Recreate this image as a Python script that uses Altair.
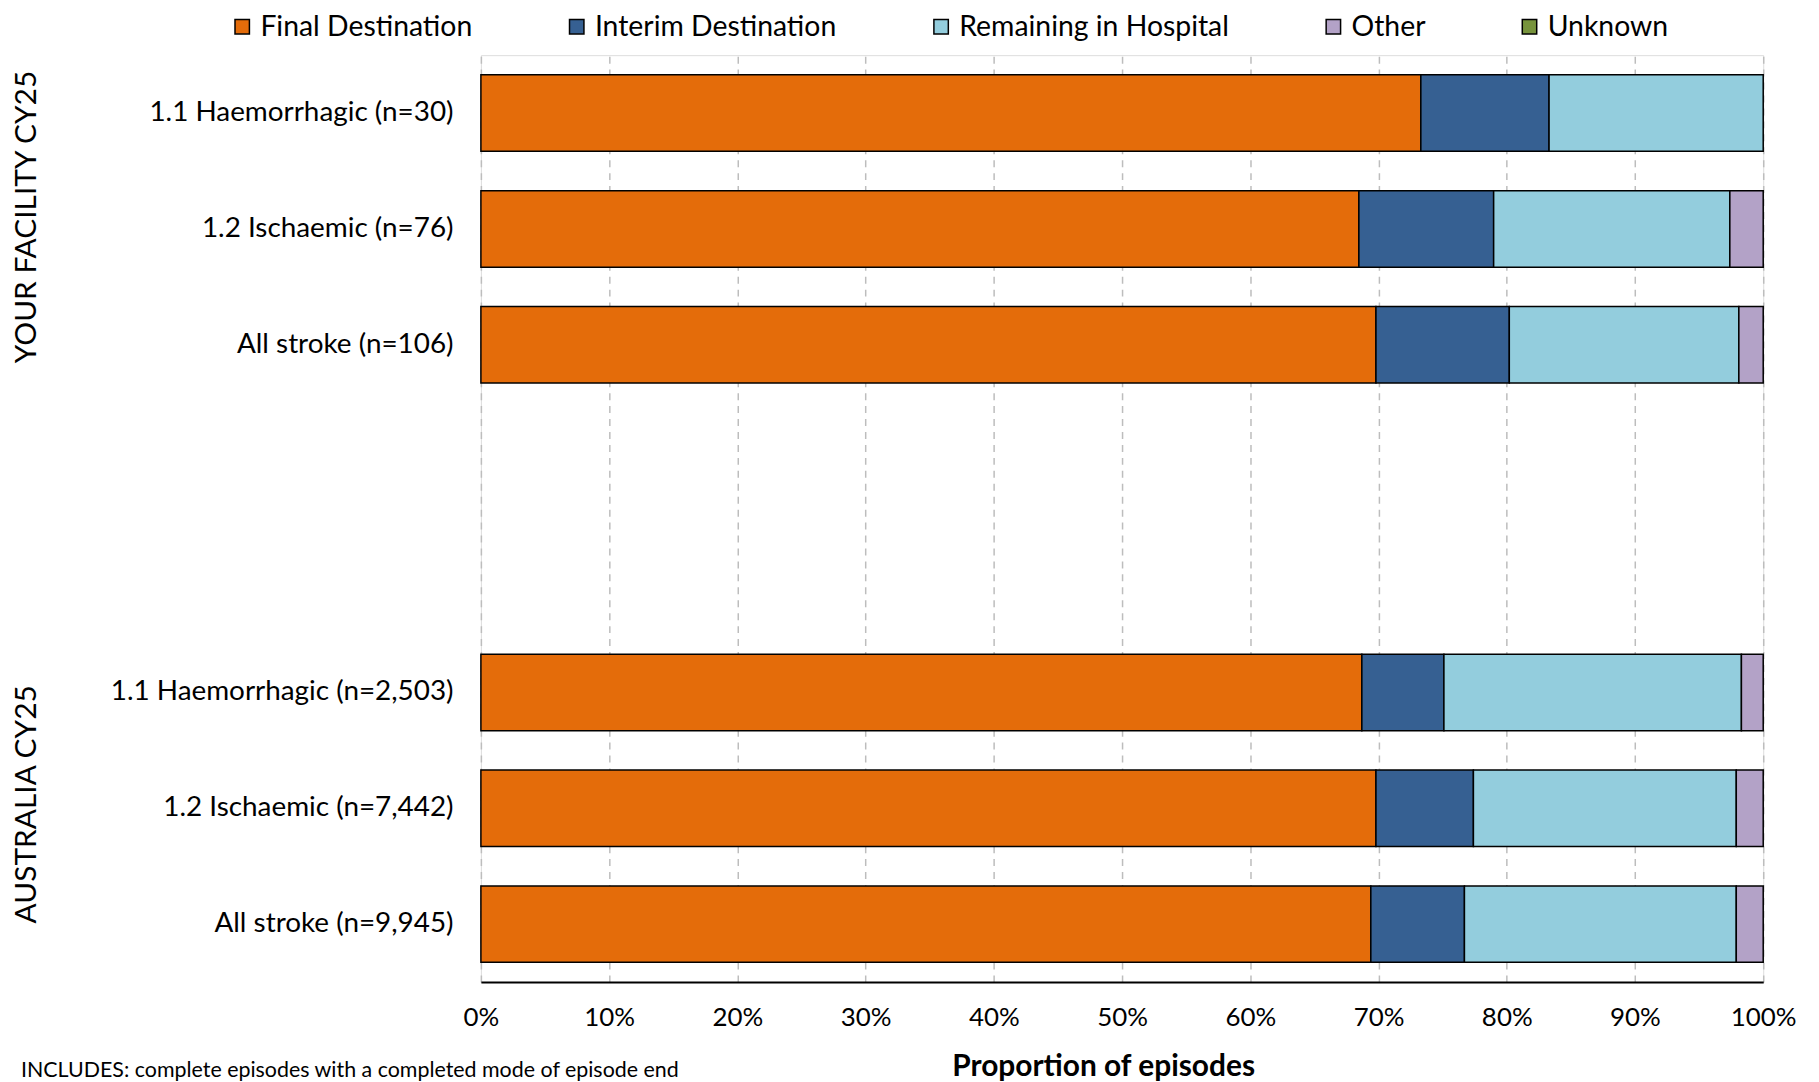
import altair as alt
import pandas as pd

categories = [
    "1.1 Haemorrhagic (n=30)",
    "1.2 Ischaemic (n=76)",
    "All stroke (n=106)",
    "1.1 Haemorrhagic (n=2,503)",
    "1.2 Ischaemic (n=7,442)",
    "All stroke (n=9,945)",
]
blank_rows = [" ", "  "]
series = ["Final Destination", "Interim Destination", "Remaining in Hospital", "Other", "Unknown"]
colors = ["#E46C0A", "#366092", "#93CDDD", "#B3A2C7", "#77933C"]

final_dest = [73.3, 68.4, 69.8, 68.7, 69.8, 69.4]
interim_dest = [10.0, 10.5, 10.4, 6.4, 7.6, 7.3]
remaining = [16.7, 18.4, 17.9, 23.2, 20.5, 21.2]
other = [0.0, 2.6, 1.9, 1.7, 2.1, 2.1]
unknown = [0.0, 0.0, 0.0, 0.0, 0.0, 0.0]

groups = ["YOUR FACILITY CY25", "AUSTRALIA CY25"]
group_mid = ["1.2 Ischaemic (n=76)", "1.2 Ischaemic (n=7,442)"]
footnote = "INCLUDES: complete episodes with a completed mode of episode end"

y_domain = categories[:3] + blank_rows + categories[3:]

rows = []
for si, (name, vals) in enumerate(zip(series, [final_dest, interim_dest, remaining, other, unknown])):
    for c, v in zip(categories, vals):
        rows.append({"category": c, "series": name, "value": v, "order": si})
df = pd.DataFrame(rows)

FONT = "Lato"

bars = alt.Chart(df).transform_filter("datum.value > 0").mark_bar(
    stroke="black", strokeWidth=1.5
).encode(
    y=alt.Y("category:N", scale=alt.Scale(domain=y_domain, paddingInner=0.34, paddingOuter=0.17),
            axis=alt.Axis(title=None, ticks=False, domain=False, labelFontSize=28,
                          labelPadding=28, labelColor="#000", labelFont=FONT, grid=False,
                          labelLimit=0)),
    x=alt.X("value:Q", stack="normalize",
            scale=alt.Scale(domain=[0, 1]),
            axis=alt.Axis(format=".0%", values=[i / 10 for i in range(11)], ticks=False,
                          labelFontSize=26, labelPadding=23, labelColor="#000", labelFont=FONT,
                          labelFlush=False,
                          title="Proportion of episodes", titleFontSize=30, titleFont=FONT,
                          titleFontWeight="bold", titleColor="#000", titlePadding=21,
                          titleX=625,
                          grid=True, gridDash=[7, 6], gridColor="#BDBDBD", gridWidth=1.5,
                          domain=True, domainColor="#000", domainWidth=2)),
    color=alt.Color("series:N", scale=alt.Scale(domain=series, range=colors),
                    legend=alt.Legend(title=None, orient="none", direction="horizontal",
                                      columns=5, legendX=-254, legendY=-43,
                                      columnPadding=90, symbolType="square", symbolSize=210,
                                      symbolStrokeColor="black", symbolStrokeWidth=1.5,
                                      labelFontSize=28.5, labelFont=FONT, labelColor="#000",
                                      labelOffset=4, labelLimit=0)),
    order=alt.Order("order:Q", sort="ascending"),
)

gdf = pd.DataFrame({"group": groups, "mid": group_mid})
group_layers = []
for i, shift in enumerate([12, 4]):
    group_layers.append(
        alt.Chart(gdf.iloc[[i]]).mark_text(
            angle=270, fontSize=30, font=FONT, color="#000", align="center",
            baseline="middle", dx=shift
        ).encode(
            y=alt.Y("mid:N", scale=alt.Scale(domain=y_domain)),
            x=alt.value(-456),
            text="group:N",
        )
    )

fdf = pd.DataFrame({"note": [footnote]})
foot_text = alt.Chart(fdf).mark_text(
    fontSize=21.5, font=FONT, color="#000", align="left", baseline="middle"
).encode(
    x=alt.value(-462),
    y=alt.value(1020),
    text="note:N",
)

chart = alt.layer(bars, *group_layers, foot_text).properties(
    width=1288, height=931,
    padding={"left": 475, "top": 45, "right": 48, "bottom": 98},
    autosize="none",
).configure_view(stroke="#555555", strokeWidth=1.5).configure(font=FONT)

chart.save("out.html", embed_options={"renderer": "svg", "actions": False})
